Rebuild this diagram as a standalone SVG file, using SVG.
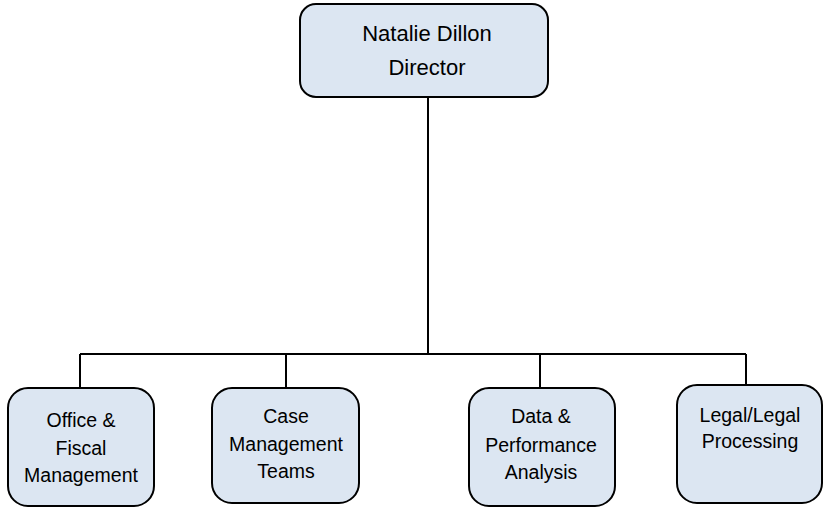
<svg xmlns="http://www.w3.org/2000/svg" width="825" height="508" viewBox="0 0 825 508">
<style>
.box{fill:#dce6f2;stroke:#000;stroke-width:2}
.t{font-family:"Liberation Sans",Arial,sans-serif;font-size:19.5px;fill:#000;text-anchor:middle}
.tt{font-size:22px}
.c{stroke:#000;stroke-width:2;fill:none}
</style>
<rect width="825" height="508" fill="#fff"/>
<g id="connectors">
<path class="c" d="M428,97 V354 M80,354 H746 M80,354 V388 M286,354 V388 M540,354 V388 M746,354 V385"/>
</g>
<g id="director">
<rect class="box" x="300" y="4" width="248" height="93" rx="16"/>
<text class="t tt" x="427" y="41">Natalie Dillon</text>
<text class="t tt" x="427" y="75">Director</text>
</g>
<g id="office">
<rect class="box" x="8" y="388" width="146" height="118" rx="20"/>
<text class="t" x="81" y="427">Office &amp;</text>
<text class="t" x="81" y="455">Fiscal</text>
<text class="t" x="81" y="482">Management</text>
</g>
<g id="case">
<rect class="box" x="212" y="388" width="147" height="115" rx="20"/>
<text class="t" x="286" y="423">Case</text>
<text class="t" x="286" y="451">Management</text>
<text class="t" x="286" y="478">Teams</text>
</g>
<g id="data">
<rect class="box" x="469" y="388" width="146" height="118" rx="20"/>
<text class="t" x="541" y="423">Data &amp;</text>
<text class="t" x="541" y="452">Performance</text>
<text class="t" x="541" y="479">Analysis</text>
</g>
<g id="legal">
<rect class="box" x="677" y="385" width="145" height="118" rx="20"/>
<text class="t" x="750" y="422">Legal/Legal</text>
<text class="t" x="750" y="448">Processing</text>
</g>
</svg>
